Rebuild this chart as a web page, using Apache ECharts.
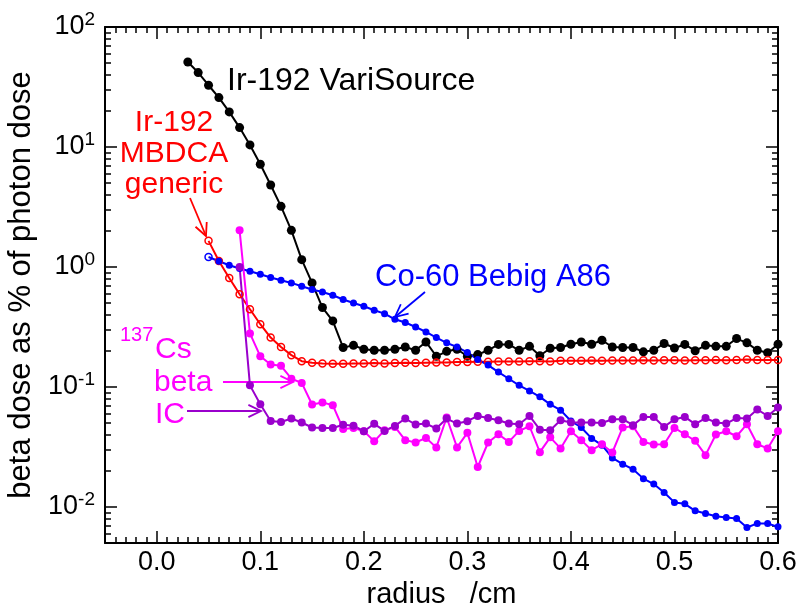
<!DOCTYPE html>
<html>
<head>
<meta charset="utf-8">
<script src="https://cdn.jsdelivr.net/npm/echarts@6/dist/echarts.min.js"></script>
<style>
  html, body { margin: 0; padding: 0; background: #fff; }
  #chart { width: 799px; height: 605px; }
</style>
</head>
<body>
<div id="chart"></div>
<script>
// Beta dose as a percentage of photon dose versus radius, for several sources.

const variSourceRadius = [0.03,0.04,0.05,0.06,0.07,0.08,0.09,0.10,0.11,0.12,0.13,0.14,0.15,0.16,0.17,0.18,0.19,0.20,0.21,0.22,0.23,0.24,0.25,0.26,0.27,0.28,0.29,0.30,0.31,0.32,0.33,0.34,0.35,0.36,0.37,0.38,0.39,0.40,0.41,0.42,0.43,0.44,0.45,0.46,0.47,0.48,0.49,0.50,0.51,0.52,0.53,0.54,0.55,0.56,0.57,0.58,0.59,0.60];
const variSourceDose = [51.1,41.7,32.7,25.8,19.6,14.5,10.4,7.17,4.82,3.2,2.02,1.15,0.736,0.459,0.355,0.213,0.222,0.206,0.202,0.202,0.206,0.215,0.202,0.237,0.18,0.198,0.206,0.18,0.186,0.202,0.226,0.226,0.202,0.218,0.182,0.21,0.213,0.227,0.237,0.227,0.245,0.215,0.213,0.213,0.196,0.202,0.23,0.211,0.226,0.2,0.222,0.218,0.218,0.253,0.233,0.202,0.193,0.227];

const mbdcaRadius = [0.05,0.06,0.07,0.08,0.09,0.10,0.11,0.12,0.13,0.14,0.15,0.16,0.17,0.18,0.19,0.20,0.21,0.22,0.23,0.24,0.25,0.26,0.27,0.28,0.29,0.30,0.31,0.32,0.33,0.34,0.35,0.36,0.37,0.38,0.39,0.40,0.41,0.42,0.43,0.44,0.45,0.46,0.47,0.48,0.49,0.50,0.51,0.52,0.53,0.54,0.55,0.56,0.57,0.58,0.59,0.60];
const mbdcaDose = [1.65,1.12,0.81,0.592,0.444,0.333,0.258,0.215,0.184,0.164,0.159,0.157,0.156,0.156,0.157,0.157,0.158,0.157,0.158,0.159,0.158,0.159,0.160,0.160,0.161,0.161,0.162,0.162,0.163,0.163,0.163,0.164,0.164,0.163,0.165,0.165,0.165,0.166,0.165,0.166,0.166,0.166,0.167,0.166,0.167,0.167,0.166,0.167,0.167,0.168,0.167,0.168,0.169,0.168,0.168,0.168];

const bebigRadius = [0.05,0.06,0.07,0.08,0.09,0.10,0.11,0.12,0.13,0.14,0.15,0.16,0.17,0.18,0.19,0.20,0.21,0.22,0.23,0.24,0.25,0.26,0.27,0.28,0.29,0.30,0.31,0.32,0.33,0.34,0.35,0.36,0.37,0.38,0.39,0.40,0.41,0.42,0.43,0.44,0.45,0.46,0.47,0.48,0.49,0.50,0.51,0.52,0.53,0.54,0.55,0.56,0.57,0.58,0.59,0.60];
const bebigDose = [1.21,1.116,1.033,0.97,0.921,0.869,0.816,0.775,0.736,0.691,0.648,0.619,0.581,0.535,0.501,0.47,0.436,0.408,0.366,0.344,0.316,0.287,0.258,0.233,0.215,0.194,0.169,0.152,0.133,0.117,0.103,0.0926,0.0826,0.0716,0.064,0.052,0.0459,0.0372,0.0327,0.0256,0.0227,0.0206,0.0172,0.0155,0.0132,0.0109,0.0106,0.00927,0.00881,0.00836,0.00815,0.008,0.00673,0.00728,0.00728,0.00682];

const csRadius = [0.08,0.09,0.10,0.11,0.12,0.13,0.14,0.15,0.16,0.17,0.18,0.19,0.20,0.21,0.22,0.23,0.24,0.25,0.26,0.27,0.28,0.29,0.30,0.31,0.32,0.33,0.34,0.35,0.36,0.37,0.38,0.39,0.40,0.41,0.42,0.43,0.44,0.45,0.46,0.47,0.48,0.49,0.50,0.51,0.52,0.53,0.54,0.55,0.56,0.57,0.58,0.59,0.60];
const csBetaDose = [2.02,0.279,0.18,0.154,0.15,0.117,0.108,0.0713,0.0741,0.0705,0.0446,0.0455,0.0428,0.0352,0.0435,0.0464,0.036,0.0344,0.0376,0.0313,0.0556,0.0313,0.0414,0.0215,0.0344,0.0403,0.0348,0.043,0.047,0.0286,0.038,0.0307,0.0427,0.036,0.0297,0.0333,0.0284,0.0459,0.047,0.0348,0.0331,0.0333,0.0455,0.0403,0.0355,0.027,0.0401,0.0427,0.0388,0.0489,0.0333,0.0307,0.0427];
const csIcDose = [1.0,0.103,0.0718,0.052,0.051,0.0545,0.0505,0.0459,0.0455,0.0455,0.0484,0.0475,0.0427,0.0492,0.043,0.0473,0.0545,0.0486,0.0495,0.045,0.0545,0.0495,0.0518,0.0573,0.055,0.0528,0.0495,0.0489,0.0573,0.044,0.0435,0.0528,0.0505,0.0505,0.0505,0.05,0.0538,0.0538,0.048,0.0562,0.0562,0.0464,0.0538,0.0562,0.0489,0.055,0.0505,0.0495,0.055,0.0545,0.0648,0.0573,0.0673];

const xMajorTicks = [0.0,0.1,0.2,0.3,0.4,0.5,0.6];

const FONT = 'Liberation Sans, Arial, Helvetica, sans-serif';
const C_BLACK = '#000000', C_RED = '#ff0000', C_BLUE = '#0000ff', C_MAG = '#ff00ff', C_PUR = '#9a00cc';

// minor log ticks: 2..9 times each decade inside the axis range
const yMinorTicks = [];
for (let e = -3; e <= 1; e++) {
  for (let k = 2; k <= 9; k++) {
    const v = +(k * Math.pow(10, e)).toPrecision(6);
    if (v >= 0.005 && v <= 100) yMinorTicks.push(v);
  }
}

function pairs(xs, ys) { return xs.map((x, i) => [x, ys[i]]); }

function decadeLabel(v) {
  const e = Math.log10(v);
  const r = Math.round(e);
  if (Math.abs(e - r) > 1e-6) return '';
  return '{b|10}{s|' + r + '}';
}

function axisLineDef(major) {
  return major
    ? { show: true, onZero: false, lineStyle: { color: '#000', width: 2 } }
    : { show: false, onZero: false };
}

function xAxisDef(pos, major, withLabels) {
  const ax = {
    type: 'value', min: -0.05, max: 0.6, position: pos,
    axisLine: axisLineDef(major),
    splitLine: { show: false },
    axisTick: { show: true, inside: true, length: major ? 12 : 6, lineStyle: { color: '#000', width: 1.5 } },
    axisLabel: { show: false }
  };
  if (major) {
    ax.axisTick.customValues = xMajorTicks;
    ax.interval = 0.05;
  } else {
    ax.interval = 0.01;
  }
  if (withLabels) {
    ax.axisLabel = {
      show: true, customValues: xMajorTicks, margin: 6,
      formatter: v => v.toFixed(1),
      fontFamily: FONT, fontSize: 27, color: '#000'
    };
    ax.name = 'radius   /cm';
    ax.nameLocation = 'middle';
    ax.nameGap = 35;
    ax.nameTextStyle = { fontFamily: FONT, fontSize: 29, color: '#000' };
  }
  return ax;
}

function yAxisDef(pos, major, withLabels) {
  const ax = {
    type: 'log', logBase: 10, min: 0.005, max: 100, position: pos,
    axisLine: axisLineDef(major),
    splitLine: { show: false },
    axisTick: { show: true, inside: true, length: major ? 12 : 6, lineStyle: { color: '#000', width: 1.5 } },
    axisLabel: { show: false }
  };
  if (!major) ax.axisTick.customValues = yMinorTicks;
  if (withLabels) {
    ax.axisLabel = {
      show: true, margin: 10, formatter: decadeLabel,
      rich: {
        b: { fontFamily: FONT, fontSize: 27, color: '#000' },
        s: { fontFamily: FONT, fontSize: 19, color: '#000', verticalAlign: 'bottom', padding: [0, 0, 14, 0] }
      }
    };
    ax.name = 'beta dose as % of photon dose';
    ax.nameLocation = 'middle';
    ax.nameGap = 60;
    ax.nameTextStyle = { fontFamily: FONT, fontSize: 31, color: '#000' };
  }
  return ax;
}

function lineSeries(name, data, color, opts) {
  return Object.assign({
    name, type: 'line', data,
    xAxisIndex: 0, yAxisIndex: 0,
    symbol: 'circle', symbolSize: 8,
    itemStyle: { color },
    lineStyle: { color, width: 2 },
    animation: false, silent: true
  }, opts || {});
}

// open-V arrow built from a shaft and two head strokes
function arrow(x1, y1, x2, y2, color) {
  const a = Math.atan2(y2 - y1, x2 - x1), L = 14, w = 0.45;
  return [
    { type: 'line', shape: { x1, y1, x2, y2 }, style: { stroke: color, lineWidth: 1.8 }, silent: true },
    { type: 'polyline', shape: { points: [
        [x2 - L * Math.cos(a - w), y2 - L * Math.sin(a - w)], [x2, y2],
        [x2 - L * Math.cos(a + w), y2 - L * Math.sin(a + w)] ] },
      style: { stroke: color, lineWidth: 1.8, fill: null }, silent: true }
  ];
}

function label(text, x, y, color, size, align) {
  return { type: 'text', x, y, silent: true,
    style: { text, fill: color, font: size + 'px ' + FONT, align: align || 'left', verticalAlign: 'middle', lineHeight: 31 } };
}

const bebigData = pairs(bebigRadius, bebigDose);
bebigData[0] = { value: bebigData[0], itemStyle: { color: 'rgba(0,0,0,0)', borderColor: C_BLUE, borderWidth: 1.5 } };

const chart = echarts.init(document.getElementById('chart'), null, { renderer: 'canvas' });
chart.setOption({
  backgroundColor: '#fff',
  animation: false,
  grid: { left: 105, right: 21, top: 27, bottom: 62, outerBoundsMode: 'none' },
  xAxis: [
    xAxisDef('bottom', false, false),
    xAxisDef('bottom', true, true),
    xAxisDef('top', false, false),
    xAxisDef('top', true, false)
  ],
  yAxis: [
    yAxisDef('left', true, true),
    yAxisDef('left', false, false),
    yAxisDef('right', true, false),
    yAxisDef('right', false, false)
  ],
  series: [
    lineSeries('Ir-192 VariSource', pairs(variSourceRadius, variSourceDose), C_BLACK, { symbolSize: 9 }),
    lineSeries('Ir-192 MBDCA generic', pairs(mbdcaRadius, mbdcaDose), C_RED,
      { symbolSize: 7, itemStyle: { color: 'rgba(0,0,0,0)', borderColor: C_RED, borderWidth: 1.5 } }),
    lineSeries('Co-60 Bebig A86', bebigData, C_BLUE, { symbolSize: 7 }),
    lineSeries('137Cs beta', pairs(csRadius, csBetaDose), C_MAG),
    lineSeries('137Cs IC', pairs(csRadius, csIcDose), C_PUR)
  ],
  graphic: [
    label('Ir-192 VariSource', 227, 81, C_BLACK, 32),
    label('Ir-192\nMBDCA\ngeneric', 174, 154, C_RED, 30, 'center'),
    label('Co-60 Bebig A86', 375, 277, C_BLUE, 31),
    label('137', 120, 335, C_MAG, 20),
    label('Cs', 155, 350, C_MAG, 30),
    label('beta', 154, 383, C_MAG, 30),
    label('IC', 155, 415, C_MAG, 30),
    ...arrow(190, 198, 206, 236, C_RED),
    ...arrow(425, 292, 395, 317, C_BLUE),
    ...arrow(223, 382, 293, 382, C_MAG),
    ...arrow(187, 411, 261, 411, C_PUR)
  ]
});
</script>
</body>
</html>
